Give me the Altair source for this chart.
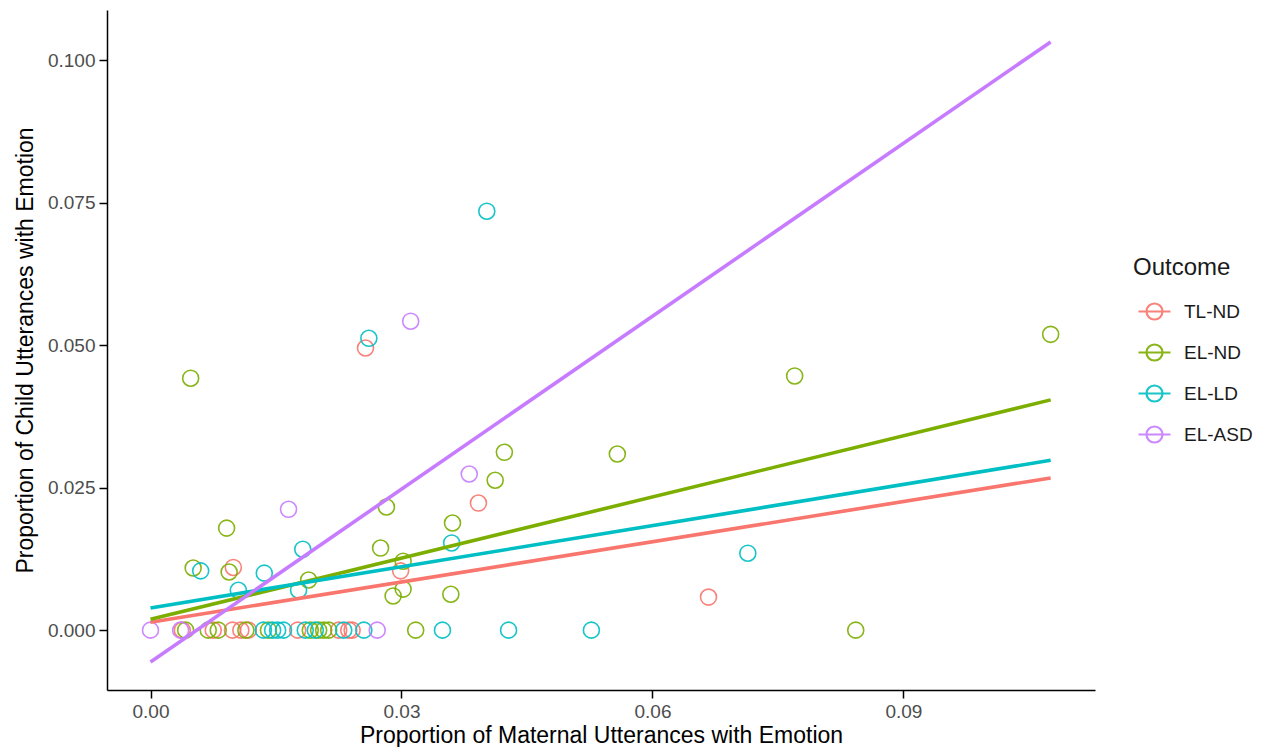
import altair as alt
import pandas as pd

groups = ["TL-ND", "EL-ND", "EL-LD", "EL-ASD"]
colors = ["#F8766D", "#7CAE00", "#00BFC4", "#C77CFF"]

# Scatter points (maternal proportion, child proportion) per outcome group
tl_x = [0.0257, 0.0392, 0.0299, 0.0667, 0.0099,
        0.0038, 0.0075, 0.0098, 0.0108, 0.0117, 0.0176, 0.0225, 0.0237, 0.0241]
tl_y = [0.0495, 0.0223, 0.0104, 0.0058, 0.0110,
        0, 0, 0, 0, 0, 0, 0, 0, 0]

nd_x = [0.0048, 0.1076, 0.0770, 0.0558, 0.0423, 0.0412, 0.0282, 0.0361, 0.0091,
        0.0275, 0.0302, 0.0051, 0.0094, 0.0189, 0.0302, 0.0290, 0.0359,
        0.0843, 0.0317, 0.0042, 0.0069, 0.0081, 0.0114, 0.0141, 0.0191,
        0.0201, 0.0207, 0.0213]
nd_y = [0.0442, 0.0519, 0.0446, 0.0309, 0.0312, 0.0263, 0.0216, 0.0188, 0.0179,
        0.0144, 0.0121, 0.0109, 0.0102, 0.0088, 0.0072, 0.0060, 0.0063,
        0, 0, 0, 0, 0, 0, 0, 0,
        0, 0, 0]

ld_x = [0.0402, 0.0261, 0.0714, 0.0360, 0.0182, 0.0136, 0.0060, 0.0105, 0.0177,
        0.0135, 0.0146, 0.0152, 0.0159, 0.0185, 0.0197, 0.0231, 0.0255,
        0.0349, 0.0428, 0.0527]
ld_y = [0.0735, 0.0512, 0.0135, 0.0153, 0.0142, 0.0100, 0.0104, 0.0070, 0.0070,
        0, 0, 0, 0, 0, 0, 0, 0,
        0, 0, 0]

asd_x = [0.0311, 0.0381, 0.0165, 0.0, 0.0036, 0.0271]
asd_y = [0.0542, 0.0274, 0.0212, 0, 0, 0]

# Fitted linear trend lines: start/end values
fit_x = [0.0, 0.1076]
fit_tl = [0.0014, 0.0267]
fit_nd = [0.0019, 0.0404]
fit_ld = [0.0039, 0.0298]
fit_asd = [-0.0056, 0.1032]

rows = []
for g, xs, ys in [("TL-ND", tl_x, tl_y), ("EL-ND", nd_x, nd_y),
                  ("EL-LD", ld_x, ld_y), ("EL-ASD", asd_x, asd_y)]:
    for a, b in zip(xs, ys):
        rows.append({"mat": a, "child": b, "Outcome": g})
points = pd.DataFrame(rows)

lrows = []
for i, (g, ys) in enumerate([("TL-ND", fit_tl), ("EL-ND", fit_nd),
                             ("EL-LD", fit_ld), ("EL-ASD", fit_asd)]):
    for a, b in zip(fit_x, ys):
        lrows.append({"mat": a, "child": b, "Outcome": g, "ord": i})
lines = pd.DataFrame(lrows)

FONT = "Liberation Sans"
sym_path = "M-1,0A1,1,0,1,1,1,0A1,1,0,1,1,-1,0M-2,0L2,0"

xscale = alt.Scale(domain=[-0.0052, 0.1129], nice=False, zero=False)
yscale = alt.Scale(domain=[-0.0105, 0.1088], nice=False, zero=False)
cscale = alt.Scale(domain=groups, range=colors)

legend = alt.Legend(
    title="Outcome", orient="none", legendX=1026, legendY=246,
    symbolType=sym_path, symbolSize=256, symbolStrokeWidth=2.2,
    symbolOffset=12, labelOffset=20, rowPadding=16, titlePadding=22,
    padding=0, titleFontSize=24, labelFontSize=19, titleFont=FONT,
    labelFont=FONT, titleFontWeight="normal", labelColor="#1a1a1a",
    titleColor="#1a1a1a",
)

xaxis = alt.Axis(title="Proportion of Maternal Utterances with Emotion",
                 values=[0, 0.03, 0.06, 0.09], format=".2f")
yaxis = alt.Axis(title="Proportion of Child Utterances with Emotion",
                 values=[0, 0.025, 0.05, 0.075, 0.1], format=".3f")

pts = alt.Chart(points).mark_point(
    shape="circle", filled=False, size=256, strokeWidth=1.6, opacity=0.9
).encode(
    x=alt.X("mat:Q", scale=xscale, axis=xaxis),
    y=alt.Y("child:Q", scale=yscale, axis=yaxis),
    color=alt.Color("Outcome:N", scale=cscale, legend=legend, sort=groups),
)

lns = alt.Chart(lines).mark_line(strokeWidth=3.6).encode(
    x=alt.X("mat:Q", scale=xscale, axis=xaxis),
    y=alt.Y("child:Q", scale=yscale, axis=yaxis),
    color=alt.Color("Outcome:N", scale=cscale, legend=legend, sort=groups),
    detail="Outcome:N",
    order="ord:Q",
)

chart = alt.layer(pts, lns).properties(
    width=988, height=680,
    autosize=alt.AutoSizeParams(type="none"),
    padding={"left": 99, "top": 2, "right": 169, "bottom": 57},
).configure_view(stroke=None).configure_axis(
    grid=False, domainColor="black", domainWidth=1.5, tickColor="black",
    tickWidth=1.5, tickSize=8, labelPadding=4, labelFont=FONT,
    labelFontSize=19, labelColor="#4D4D4D", titleFont=FONT,
    titleFontSize=23, titleFontWeight="normal", titleColor="black",
).configure_axisY(titlePadding=10).configure_axisX(titlePadding=3)

chart.save("out.html", embed_options={"renderer": "svg", "actions": False})
